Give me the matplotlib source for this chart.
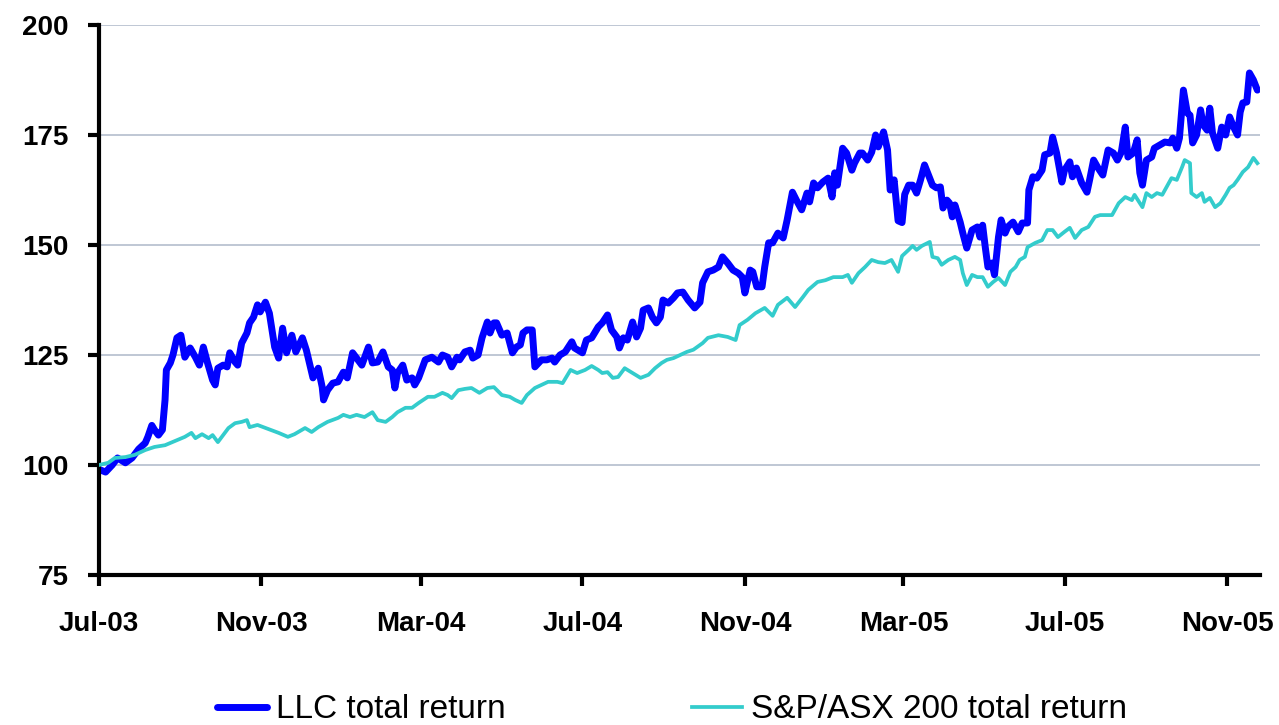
import pandas as pd
import matplotlib
matplotlib.use("Agg")
import matplotlib.pyplot as plt
import matplotlib.dates as mdates
from matplotlib.font_manager import FontProperties

# -------------- DATA ------------------------------------------------
START = pd.Timestamp("2003-07-01")   # day 0
END_DAY = 879                         # right edge of the plot area

# LLC total return: days since START, index value
llc_days = [
    0, 5, 10, 14, 20, 25, 30, 35, 37, 40,
    42, 45, 48, 50, 51, 54, 56, 59, 62, 65,
    69, 73, 76, 79, 82, 86, 88, 90, 94, 97,
    99, 103, 105, 108, 112, 114, 117, 120, 122, 126,
    129, 133, 136, 139, 142, 146, 149, 154, 157, 160,
    162, 166, 169, 170, 173, 177, 181, 185, 188, 192,
    195, 199, 204, 207, 211, 215, 219, 222, 224, 226,
    230, 233, 237, 239, 242, 247, 252, 257, 260, 264,
    267, 271, 273, 277, 281, 283, 287, 290, 294, 296,
    299, 301, 305, 309, 313, 316, 319, 321, 324, 328,
    330, 335, 339, 343, 345, 349, 353, 358, 360, 366,
    369, 373, 378, 381, 385, 388, 392, 394, 397, 400,
    404, 407, 410, 412, 416, 419, 422, 425, 427, 431,
    435, 438, 442, 446, 451, 455, 457, 461, 465, 469,
    472, 476, 480, 484, 487, 489, 493, 495, 498, 502,
    504, 507, 510, 514, 518, 521, 525, 528, 532, 536,
    538, 541, 544, 548, 552, 555, 557, 559, 563, 566,
    570, 572, 576, 578, 582, 585, 588, 590, 594, 597,
    599, 602, 605, 608, 610, 613, 616, 619, 622, 625,
    628, 631, 634, 637, 639, 642, 644, 646, 648, 652,
    654, 657, 661, 665, 667, 669, 671, 673, 676, 678,
    681, 683, 686, 688, 692, 696, 699, 703, 704, 707,
    710, 714, 716, 720, 722, 725, 729, 731, 735, 737,
    740, 744, 748, 750, 753, 756, 760, 764, 768, 771,
    774, 777, 779, 783, 786, 788, 790, 793, 797, 799,
    803, 807, 811, 813, 816, 818, 821, 824, 826, 828,
    831, 834, 836, 839, 841, 843, 847, 850, 853, 856,
    859, 862, 864, 866, 869, 871, 874, 877,
]
llc_values = [
    99.0, 98.4, 100.0, 101.6, 100.5, 101.6, 103.6, 105.0, 106.4, 109.0,
    108.0, 106.8, 108.0, 114.8, 121.6, 123.2, 125.0, 128.9, 129.5, 124.5,
    126.6, 124.5, 122.7, 126.8, 123.4, 119.3, 118.2, 122.0, 122.7, 122.3,
    125.5, 123.4, 122.7, 127.7, 130.0, 132.3, 133.6, 136.4, 134.8, 137.0,
    134.5, 126.8, 124.3, 131.1, 125.5, 129.5, 125.7, 128.9, 126.1, 122.3,
    119.8, 122.0, 117.7, 114.8, 117.0, 118.6, 118.9, 121.1, 119.8, 125.5,
    124.3, 122.7, 126.8, 123.2, 123.4, 125.7, 122.3, 121.6, 117.5, 120.9,
    122.7, 119.3, 119.8, 118.2, 119.8, 123.9, 124.5, 123.4, 125.0, 124.5,
    122.3, 124.5, 123.9, 125.7, 126.1, 124.3, 125.0, 128.9, 132.5, 130.0,
    132.3, 132.3, 129.5, 130.0, 125.5, 126.8, 127.3, 130.0, 130.7, 130.7,
    122.3, 123.9, 123.9, 124.3, 123.4, 125.0, 125.7, 128.0, 126.6, 125.5,
    128.4, 128.9, 131.4, 132.3, 134.1, 130.7, 129.1, 126.6, 128.9, 128.4,
    132.5, 129.1, 131.1, 135.2, 135.7, 133.6, 132.3, 133.6, 137.5, 136.8,
    138.0, 139.1, 139.3, 137.5, 135.7, 137.0, 141.4, 143.9, 144.3, 145.0,
    147.3, 145.9, 144.3, 143.6, 142.7, 139.1, 144.3, 143.9, 140.5, 140.5,
    145.0, 150.5, 150.5, 152.7, 151.6, 155.7, 162.0, 160.2, 158.0, 161.8,
    159.8, 164.1, 163.0, 164.3, 165.2, 160.9, 166.4, 163.6, 172.0, 170.9,
    167.0, 168.6, 170.9, 170.9, 169.3, 171.1, 175.0, 172.3, 175.7, 171.6,
    162.5, 164.8, 155.5, 155.1, 161.5, 163.6, 163.6, 161.8, 164.8, 168.2,
    165.9, 163.6, 163.0, 163.2, 158.4, 160.2, 159.5, 156.4, 159.1, 155.2,
    152.7, 149.3, 153.4, 154.1, 151.8, 154.5, 149.5, 145.0, 145.9, 143.2,
    151.8, 155.7, 152.7, 154.1, 155.2, 153.0, 155.0, 155.0, 162.5, 165.5,
    165.2, 167.0, 170.5, 170.9, 174.5, 170.9, 164.3, 167.0, 168.9, 165.5,
    167.5, 164.1, 162.0, 164.8, 169.3, 167.7, 165.9, 171.6, 170.9, 169.3,
    171.1, 176.8, 170.0, 170.9, 173.9, 166.4, 163.6, 169.3, 170.0, 172.0,
    172.7, 173.4, 173.2, 174.3, 172.0, 174.3, 185.2, 180.0, 179.5, 173.2,
    175.0, 180.7, 177.3, 176.1, 181.1, 175.5, 172.0, 176.8, 175.0, 179.1,
    176.8, 175.0, 180.2, 182.3, 182.5, 189.1, 187.5, 185.2,
]

# S&P/ASX 200 total return: days since START, index value
asx_days = [
    0, 7, 12, 20, 27, 35, 42, 50, 58, 65,
    70, 73, 78, 83, 86, 90, 93, 98, 103, 108,
    112, 114, 120, 128, 136, 143, 148, 156, 161, 166,
    173, 181, 185, 190, 195, 201, 207, 211, 217, 222,
    226, 232, 237, 242, 249, 254, 260, 264, 267, 272,
    277, 282, 288, 294, 299, 305, 311, 315, 320, 324,
    330, 335, 340, 347, 351, 357, 362, 368, 373, 378,
    381, 385, 389, 393, 398, 404, 410, 416, 421, 426,
    430, 435, 440, 445, 450, 457, 461, 469, 476, 482,
    485, 491, 497, 504, 510, 514, 521, 527, 533, 537,
    544, 550, 556, 563, 567, 570, 575, 580, 585, 590,
    595, 600, 605, 608, 613, 616, 619, 623, 629, 631,
    635, 638, 643, 648, 652, 654, 657, 661, 665, 669,
    673, 677, 681, 686, 690, 694, 697, 701, 703, 709,
    714, 718, 722, 726, 731, 735, 739, 744, 749, 754,
    758, 767, 772, 777, 782, 784, 790, 793, 797, 801,
    805, 809, 812, 816, 820, 822, 826, 827, 831, 835,
    837, 841, 845, 849, 853, 856, 859, 862, 866, 870,
    874, 877,
]
asx_values = [
    100.0, 100.5, 101.6, 101.8, 102.3, 103.4, 104.1, 104.5, 105.5, 106.4,
    107.3, 106.1, 107.0, 106.1, 106.8, 105.2, 106.4, 108.4, 109.5, 109.8,
    110.2, 108.6, 109.1, 108.2, 107.3, 106.4, 107.0, 108.4, 107.5, 108.6,
    109.8, 110.7, 111.4, 110.9, 111.4, 110.9, 112.0, 110.2, 109.8, 110.9,
    112.0, 113.0, 113.0, 114.1, 115.5, 115.5, 116.4, 115.9, 115.2, 117.0,
    117.3, 117.5, 116.4, 117.5, 117.7, 115.9, 115.5, 114.8, 114.1, 115.9,
    117.5, 118.2, 118.9, 118.9, 118.6, 121.6, 120.9, 121.6, 122.5, 121.6,
    120.9, 121.1, 119.8, 120.0, 122.0, 120.9, 119.8, 120.5, 122.0, 123.2,
    123.9, 124.3, 125.0, 125.7, 126.2, 127.7, 128.9, 129.5, 129.1, 128.4,
    131.8, 133.0, 134.5, 135.7, 133.9, 136.4, 138.0, 135.9, 138.2, 139.8,
    141.6, 142.0, 142.7, 142.7, 143.2, 141.4, 143.6, 145.0, 146.6, 146.1,
    145.9, 146.6, 143.9, 147.5, 148.9, 149.8, 148.9, 149.8, 150.7, 147.3,
    147.0, 145.5, 146.6, 147.3, 146.6, 143.6, 140.9, 143.2, 142.7, 142.7,
    140.5, 141.6, 142.5, 140.9, 143.9, 145.0, 146.6, 147.3, 149.5, 150.5,
    151.1, 153.4, 153.4, 151.8, 153.0, 153.9, 151.6, 153.4, 154.1, 156.4,
    156.8, 156.8, 159.5, 160.9, 160.2, 161.4, 158.6, 161.8, 160.9, 161.8,
    161.4, 163.6, 165.2, 164.8, 167.7, 169.3, 168.6, 161.8, 160.9, 161.8,
    159.8, 160.7, 158.6, 159.5, 161.4, 163.0, 163.6, 164.8, 166.6, 167.7,
    169.8, 168.6,
]

series_labels = ["LLC total return", "S&P/ASX 200 total return"]
y_ticks = [75, 100, 125, 150, 175, 200]

# -------------- STYLE -----------------------------------------------
llc_color = "#0000FF"
asx_color = "#33CCCC"
grid_color = "#B4BECD"
tick_font = FontProperties(family=["Liberation Sans", "DejaVu Sans"],
                           weight="bold", size=20)
legend_font = FontProperties(family=["Liberation Sans", "DejaVu Sans"], size=24)

llc_dates = START + pd.to_timedelta(llc_days, unit="D")
asx_dates = START + pd.to_timedelta(asx_days, unit="D")

# ── Figure ──────────────────────────────────────────────────
W, H = 1279, 725
fig = plt.figure(figsize=(W / 100, H / 100), dpi=100)
ax = fig.add_axes([99 / W, 1 - 575 / H, (1260 - 99) / W, 550 / H])

ax.plot(llc_dates, llc_values, color=llc_color, linewidth=5,
        solid_joinstyle="round", solid_capstyle="round",
        label=series_labels[0], zorder=2)
ax.plot(asx_dates, asx_values, color=asx_color, linewidth=2.7,
        solid_joinstyle="round", label=series_labels[1], zorder=3)

# ── Axes ────────────────────────────────────────────────────
ax.set_xlim(START, START + pd.Timedelta(days=END_DAY))
ax.set_ylim(75, 200)
ax.set_yticks(y_ticks)
ax.xaxis.set_major_locator(mdates.MonthLocator(bymonth=(3, 7, 11)))
ax.xaxis.set_major_formatter(mdates.DateFormatter("%b-%y"))

for side in ("top", "right"):
    ax.spines[side].set_visible(False)
for side in ("left", "bottom"):
    ax.spines[side].set_linewidth(3)
    ax.spines[side].set_color("black")

ax.tick_params(axis="both", direction="out", length=8, width=3, color="black")
ax.tick_params(axis="y", pad=14)
ax.tick_params(axis="x", pad=18)
for lbl in ax.get_xticklabels() + ax.get_yticklabels():
    lbl.set_fontproperties(tick_font)

ax.yaxis.grid(True, color=grid_color, linewidth=1.2)
ax.set_axisbelow(True)

# ── Legend ──────────────────────────────────────────────────
fig.legend(loc="center", bbox_to_anchor=(672 / W, 1 - 710 / H), ncol=2,
           frameon=False, prop=legend_font, handlelength=1.5,
           handletextpad=0.28, columnspacing=5.6, borderpad=0)

fig.savefig("out.png", dpi=100)
